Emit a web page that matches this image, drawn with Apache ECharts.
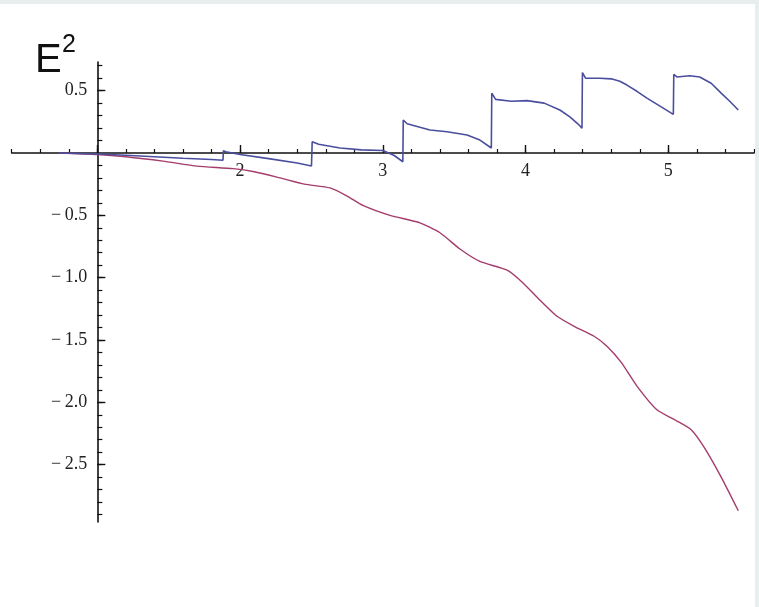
<!DOCTYPE html>
<html>
<head>
<meta charset="utf-8">
<script src="https://cdn.jsdelivr.net/npm/echarts@6/dist/echarts.min.js"></script>
<style>
html,body{margin:0;padding:0;background:#e8eeed;width:759px;height:607px;overflow:hidden;}
#chart{position:absolute;left:0;top:4px;width:755px;height:603px;background:#ffffff;}
</style>
</head>
<body>
<div id="chart"></div>
<script>
// ---- data ----
var blueData = [
  [0.73,0.0],[1.0,-0.008],[1.2,-0.018],[1.4,-0.03],[1.6,-0.042],[1.8,-0.052],[1.88,-0.058],
  [1.883,0.018],[1.9,0.01],[2.0,-0.012],[2.2,-0.045],[2.4,-0.08],[2.5,-0.105],
  [2.505,0.09],[2.55,0.07],[2.7,0.04],[2.85,0.025],[3.0,0.02],[3.08,-0.02],[3.14,-0.07],
  [3.143,0.265],[3.17,0.235],[3.33,0.185],[3.45,0.17],[3.59,0.145],[3.68,0.104],[3.76,0.04],
  [3.763,0.48],[3.79,0.43],[3.9,0.415],[4.01,0.42],[4.13,0.40],[4.24,0.345],[4.31,0.29],[4.37,0.23],[4.395,0.198],
  [4.398,0.645],[4.42,0.60],[4.52,0.60],[4.6,0.595],[4.66,0.575],[4.71,0.545],[4.78,0.495],[4.85,0.44],[4.95,0.37],[5.035,0.31],
  [5.038,0.63],[5.06,0.61],[5.15,0.62],[5.22,0.61],[5.3,0.56],[5.37,0.48],[5.43,0.415],[5.49,0.345]
];
var redData = [
  [0.73,0.0],[1.0,-0.012],[1.2,-0.03],[1.46,-0.065],[1.7,-0.105],[1.95,-0.125],[2.1,-0.15],
  [2.28,-0.2],[2.45,-0.25],[2.63,-0.28],[2.75,-0.345],[2.86,-0.42],[3.05,-0.5],[3.26,-0.56],
  [3.4,-0.64],[3.54,-0.77],[3.68,-0.87],[3.87,-0.94],[3.98,-1.04],[4.1,-1.18],[4.22,-1.31],
  [4.34,-1.39],[4.48,-1.47],[4.57,-1.55],[4.67,-1.68],[4.78,-1.87],[4.92,-2.06],[5.06,-2.15],
  [5.16,-2.22],[5.25,-2.36],[5.37,-2.6],[5.49,-2.87]
];
var xMajorTicks = [1, 2, 3, 4, 5];
var xTickLabels = [2, 3, 4, 5];
var xMinorTicks = [0.4,0.6,0.8,1.0,1.2,1.4,1.6,1.8,2.0,2.2,2.4,2.6,2.8,3.0,3.2,3.4,3.6,3.8,4.0,4.2,4.4,4.6,4.8,5.0,5.2,5.4,5.6];
var yMajorTicks = [0.5, -0.5, -1.0, -1.5, -2.0, -2.5];
var yTickLabels = [0.5, -0.5, -1.0, -1.5, -2.0, -2.5];
var yMinorTicks = [0.7,0.6,0.5,0.4,0.3,0.2,0.1,-0.1,-0.2,-0.3,-0.4,-0.5,-0.6,-0.7,-0.8,-0.9,-1.0,-1.1,-1.2,-1.3,-1.4,-1.5,-1.6,-1.7,-1.8,-1.9,-2.0,-2.1,-2.2,-2.3,-2.4,-2.5,-2.6,-2.7,-2.8,-2.9];
var xMin = 0.4, xMax = 5.6, yMin = -2.96, yMax = 0.73, yAxisAtX = 1, xAxisAtY = 0;

var gridLeft = 11.7, gridRight = 1, gridTop = 58, gridBottom = 85;
var chartW = 755, chartH = 603;
var yOffset = -((yAxisAtX - xMin) / (xMax - xMin)) * (chartW - gridLeft - gridRight);
var xOffset = -((xAxisAtY - yMin) / (yMax - yMin)) * (chartH - gridTop - gridBottom);

var lblFont = 'Liberation Serif';
function fmtY(v){ var s = Math.abs(v).toFixed(1); return v < 0 ? '\u2212\u2009' + s : s; }

var chart = echarts.init(document.getElementById('chart'), null, {renderer:'canvas'});
chart.setOption({
  animation:false,
  grid:{left:gridLeft, right:gridRight, top:gridTop, bottom:gridBottom, containLabel:false},
  xAxis:[
    {type:'value', min:xMin, max:xMax, position:'bottom', offset:xOffset,
     axisLine:{show:true, onZero:false, lineStyle:{color:'#111', width:1.6}},
     axisTick:{show:true, inside:true, length:8, customValues:xMajorTicks, lineStyle:{color:'#111', width:1.4}},
     axisLabel:{show:true, customValues:xTickLabels, margin:9, color:'#222', fontFamily:lblFont, fontSize:18},
     splitLine:{show:false}},
    {type:'value', min:xMin, max:xMax, position:'bottom', offset:xOffset,
     axisLine:{show:false, onZero:false},
     axisTick:{show:true, inside:true, length:4, customValues:xMinorTicks, lineStyle:{color:'#111', width:1.2}},
     axisLabel:{show:false}, splitLine:{show:false}}
  ],
  yAxis:[
    {type:'value', min:yMin, max:yMax, position:'left', offset:yOffset,
     axisLine:{show:true, onZero:false, lineStyle:{color:'#111', width:1.6}},
     axisTick:{show:true, inside:true, length:8, customValues:yMajorTicks, lineStyle:{color:'#111', width:1.4}},
     axisLabel:{show:true, customValues:yTickLabels, margin:10, color:'#222', fontFamily:lblFont, fontSize:18, formatter:fmtY},
     splitLine:{show:false}},
    {type:'value', min:yMin, max:yMax, position:'left', offset:yOffset,
     axisLine:{show:false, onZero:false},
     axisTick:{show:true, inside:true, length:5, customValues:yMinorTicks, lineStyle:{color:'#111', width:1.2}},
     axisLabel:{show:false}, splitLine:{show:false}}
  ],
  graphic:[
    {type:'text', x:35, y:57, style:{text:'E', font:'40px "Liberation Sans"', fill:'#111', verticalAlign:'middle'}},
    {type:'text', x:62, y:41, style:{text:'2', font:'25px "Liberation Sans"', fill:'#111', verticalAlign:'middle'}}
  ],
  series:[
    {type:'line', data:redData, xAxisIndex:0, yAxisIndex:0, smooth:0.2, symbol:'none',
     lineStyle:{color:'#a43c6c', width:1.4}, z:3},
    {type:'line', data:blueData, xAxisIndex:0, yAxisIndex:0, smooth:false, symbol:'none',
     lineStyle:{color:'#4a4e9e', width:1.6}, z:4}
  ]
});
</script>
</body>
</html>
